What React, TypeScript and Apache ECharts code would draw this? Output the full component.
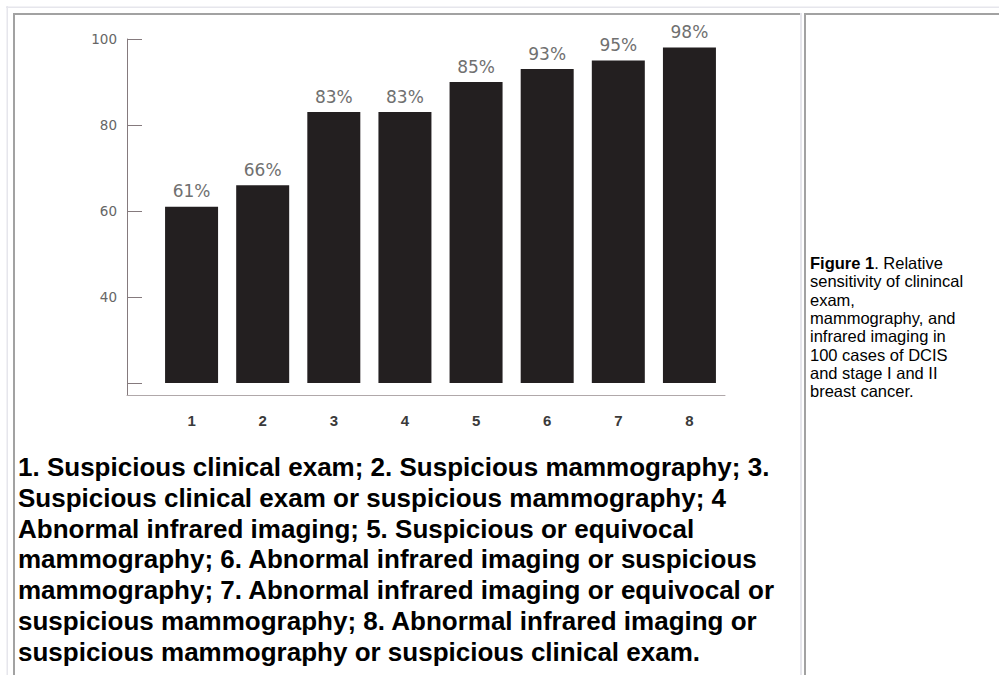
import React, { useEffect, useRef } from "react";
import * as echarts from "echarts";

const categories = ["1", "2", "3", "4", "5", "6", "7", "8"];
// bar heights as drawn in the figure
const barValues = [61, 66, 83, 83, 90, 93, 95, 98];
// percent labels printed above the bars
const barLabels = ["61%", "66%", "83%", "83%", "85%", "93%", "95%", "98%"];
const yTickValues = [20, 40, 60, 80, 100];
const yLabelValues = [40, 60, 80, 100];

const captionLines = [
  "1. Suspicious clinical exam; 2. Suspicious mammography; 3.",
  "Suspicious clinical exam or suspicious mammography; 4",
  "Abnormal infrared imaging; 5. Suspicious or equivocal",
  "mammography; 6. Abnormal infrared imaging or suspicious",
  "mammography; 7. Abnormal infrared imaging or equivocal or",
  "suspicious mammography; 8. Abnormal infrared imaging or",
  "suspicious mammography or suspicious clinical exam.",
];

const sideCaption = [
  "{b|Figure 1}. Relative",
  "sensitivity of clinincal",
  "exam,",
  "mammography, and",
  "infrared imaging in",
  "100 cases of DCIS",
  "and stage I and II",
  "breast cancer.",
];

export default function App() {
  const ref = useRef<HTMLDivElement>(null);
  useEffect(() => {
    if (!ref.current) return;
    const chart = echarts.init(ref.current, undefined, { renderer: "svg" });
    const light = "#e6e6ec";
    const dark = "#a2a2a2";
    chart.setOption({
      animation: false,
      backgroundColor: "#ffffff",
      grid: [
        { left: 156, right: 274, top: 39, bottom: 292 },
        { left: 127, right: 274, top: 39, bottom: 280 },
      ],
      xAxis: [
        {
          type: "category",
          gridIndex: 0,
          data: categories,
          axisLine: { show: false },
          axisTick: { show: false },
          axisLabel: {
            margin: 30,
            fontSize: 15,
            fontWeight: "bold",
            fontFamily: "'Liberation Sans Narrow', 'Liberation Sans', Arial",
            color: "#3a3a3a",
          },
        },
        {
          type: "value",
          gridIndex: 1,
          min: 0,
          max: 1,
          axisLine: { show: true, lineStyle: { color: "#b0a8aa", width: 1 } },
          axisTick: { show: false },
          axisLabel: { show: false },
          splitLine: { show: false },
        },
      ],
      yAxis: [
        {
          type: "value",
          gridIndex: 0,
          min: 20,
          max: 100,
          show: false,
          splitLine: { show: false },
        },
        {
          type: "value",
          gridIndex: 1,
          min: 17.2,
          max: 100,
          axisLine: { show: true, lineStyle: { color: "#857a7d", width: 1 } },
          axisTick: {
            show: true,
            inside: true,
            length: 15,
            customValues: yTickValues,
            lineStyle: { color: "#857a7d" },
          },
          axisLabel: {
            customValues: yLabelValues,
            margin: 10,
            fontSize: 13.5,
            fontFamily: "'DejaVu Sans', sans-serif",
            color: "#666",
          },
          splitLine: { show: false },
        },
      ],
      series: [
        {
          type: "bar",
          xAxisIndex: 0,
          yAxisIndex: 0,
          data: barValues,
          barWidth: 53,
          itemStyle: { color: "#231f20" },
          label: {
            show: true,
            position: "top",
            distance: 7,
            fontSize: 17,
            fontFamily: "'DejaVu Sans', sans-serif",
            color: "#707070",
            formatter: (p: any) => barLabels[p.dataIndex],
          },
        },
      ],
      graphic: [
        { type: "rect", shape: { x: 6, y: 6.5, width: 993, height: 1.5 }, style: { fill: light }, silent: true },
        { type: "rect", shape: { x: 6.5, y: 6, width: 1.5, height: 669 }, style: { fill: light }, silent: true },
        { type: "rect", shape: { x: 13, y: 13, width: 787, height: 2 }, style: { fill: dark }, silent: true },
        { type: "rect", shape: { x: 13, y: 13, width: 2, height: 662 }, style: { fill: dark }, silent: true },
        { type: "rect", shape: { x: 800, y: 13, width: 2, height: 662 }, style: { fill: light }, silent: true },
        { type: "rect", shape: { x: 804, y: 13, width: 195, height: 2 }, style: { fill: dark }, silent: true },
        { type: "rect", shape: { x: 804, y: 13, width: 2, height: 662 }, style: { fill: dark }, silent: true },
        {
          type: "text",
          x: 18,
          y: 452,
          style: {
            text: captionLines.join("\n"),
            fontSize: 26,
            fontWeight: "bold",
            fontFamily: "'Liberation Sans', Arial, Helvetica, sans-serif",
            fill: "#000",
            lineHeight: 30.7,
            verticalAlign: "top",
          },
        },
        {
          type: "text",
          x: 810,
          y: 254,
          style: {
            text: sideCaption.join("\n"),
            fontSize: 16.5,
            fontFamily: "'Liberation Sans', Arial, Helvetica, sans-serif",
            fill: "#000",
            lineHeight: 18.3,
            verticalAlign: "top",
            rich: {
              b: {
                fontSize: 16.5,
                fontWeight: "bold",
                fontFamily: "'Liberation Sans', Arial, Helvetica, sans-serif",
                fill: "#000",
                lineHeight: 18.3,
              },
            },
          },
        },
      ],
    });
    return () => chart.dispose();
  }, []);
  return (
    <div
      ref={ref}
      style={{ position: "fixed", left: 0, top: 0, width: 999, height: 675 }}
    />
  );
}
